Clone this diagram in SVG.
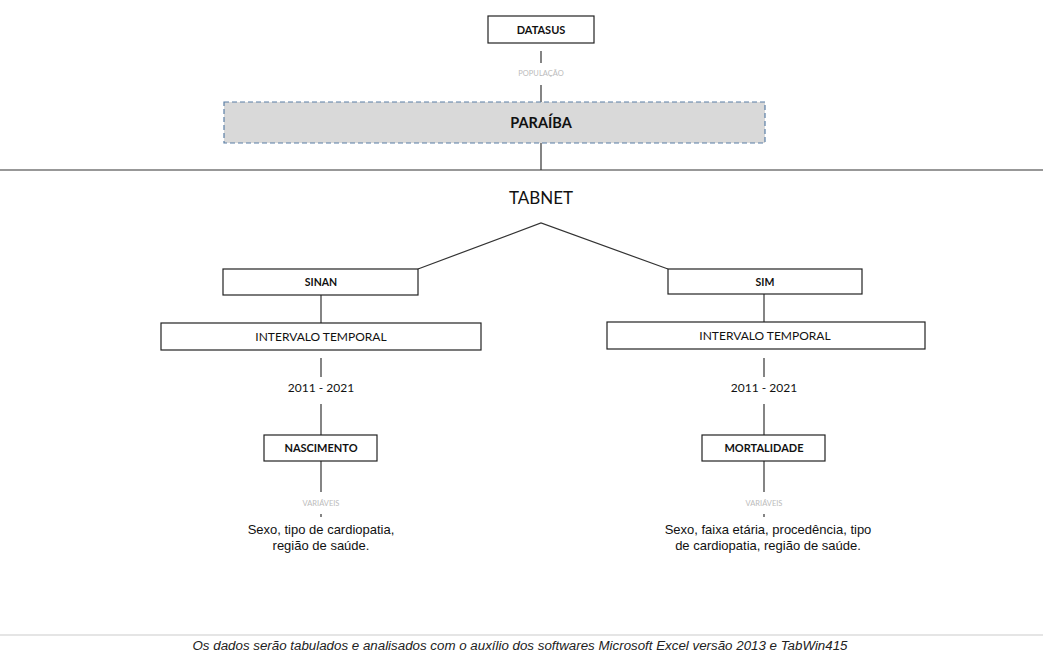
<svg xmlns="http://www.w3.org/2000/svg" width="1043" height="652" viewBox="0 0 1043 652">
<style>
.box{fill:#fff;stroke:#222;stroke-width:1.2}
.ln{stroke:#333;stroke-width:1.2;fill:none}
.t{font-family:Lato,"Open Sans",sans-serif;fill:#111;text-anchor:middle}
.b{font-weight:bold}
.g{font-family:Lato,"Open Sans",sans-serif;fill:#bbb;text-anchor:middle;font-size:7.5px}
.a{font-family:"Liberation Sans",Arial,sans-serif;fill:#111;text-anchor:middle;font-size:13px}
</style>
<rect width="1043" height="652" fill="#fff"/>
<g id="connectors">
<line class="ln" x1="541" y1="51" x2="541" y2="63"/>
<line class="ln" x1="541" y1="85" x2="541" y2="102"/>
<line class="ln" x1="541" y1="143" x2="541" y2="170"/>
<line class="ln" x1="0" y1="170" x2="1043" y2="170" stroke="#444"/>
<polyline class="ln" points="418,269 541,223 668,269"/>
<line class="ln" x1="321" y1="295" x2="321" y2="323"/>
<line class="ln" x1="321" y1="358" x2="321" y2="377"/>
<line class="ln" x1="321" y1="404" x2="321" y2="435"/>
<line class="ln" x1="321" y1="461" x2="321" y2="492"/>
<line class="ln" x1="321" y1="514" x2="321" y2="517" stroke-width="0.8"/>
<line class="ln" x1="764" y1="294" x2="764" y2="322"/>
<line class="ln" x1="764" y1="358" x2="764" y2="377"/>
<line class="ln" x1="764" y1="404" x2="764" y2="435"/>
<line class="ln" x1="764" y1="461" x2="764" y2="492"/>
<line class="ln" x1="764" y1="514" x2="764" y2="517" stroke-width="0.8"/>
<line x1="0" y1="635" x2="1043" y2="635" stroke="#ccc" stroke-width="1.2"/>
</g>
<g id="datasus">
<rect class="box" x="488" y="16" width="106" height="27"/>
<text class="t b" x="541" y="33.5" font-size="11">DATASUS</text>
</g>
<g id="populacao">
<text class="g" x="541" y="76">POPULAÇÃO</text>
</g>
<g id="paraiba">
<rect x="224" y="102" width="541" height="41" fill="#d9d9d9" stroke="#5b7fa6" stroke-width="1.2" stroke-dasharray="5,3"/>
<text class="t b" x="541" y="128" font-size="14.5">PARAÍBA</text>
</g>
<g id="tabnet">
<text class="t" x="541" y="204" font-size="17">TABNET</text>
</g>
<g id="sinan">
<rect class="box" x="223" y="269" width="195" height="26"/>
<text class="t b" x="321" y="286" font-size="10.5">SINAN</text>
</g>
<g id="intervalo-left">
<rect class="box" x="161" y="323" width="320" height="27"/>
<text class="t" x="321" y="340.5" font-size="12">INTERVALO TEMPORAL</text>
</g>
<g id="periodo-left">
<text class="t" x="321" y="392" font-size="12">2011 - 2021</text>
</g>
<g id="nascimento">
<rect class="box" x="264" y="435" width="113" height="26"/>
<text class="t b" x="321" y="452" font-size="11">NASCIMENTO</text>
</g>
<g id="variaveis-left">
<text class="g" x="321" y="506">VARIÁVEIS</text>
<text class="a" x="321" y="534">Sexo, tipo de cardiopatia,</text>
<text class="a" x="321" y="550">região de saúde.</text>
</g>
<g id="sim">
<rect class="box" x="668" y="269" width="194" height="25"/>
<text class="t b" x="765" y="286" font-size="10.5">SIM</text>
</g>
<g id="intervalo-right">
<rect class="box" x="607" y="322" width="318" height="27"/>
<text class="t" x="765" y="339.5" font-size="12">INTERVALO TEMPORAL</text>
</g>
<g id="periodo-right">
<text class="t" x="764" y="392" font-size="12">2011 - 2021</text>
</g>
<g id="mortalidade">
<rect class="box" x="702" y="435" width="123" height="26"/>
<text class="t b" x="764" y="452" font-size="11">MORTALIDADE</text>
</g>
<g id="variaveis-right">
<text class="g" x="764" y="506">VARIÁVEIS</text>
<text class="a" x="768" y="534">Sexo, faixa etária, procedência, tipo</text>
<text class="a" x="768" y="550">de cardiopatia, região de saúde.</text>
</g>
<g id="footnote">
<text x="520" y="650" font-family="Liberation Sans,Arial,sans-serif" font-style="italic" font-size="12" fill="#222" text-anchor="middle" textLength="655" lengthAdjust="spacingAndGlyphs">Os dados serão tabulados e analisados com o auxílio dos softwares Microsoft Excel versão 2013 e TabWin415</text>
</g>
</svg>
